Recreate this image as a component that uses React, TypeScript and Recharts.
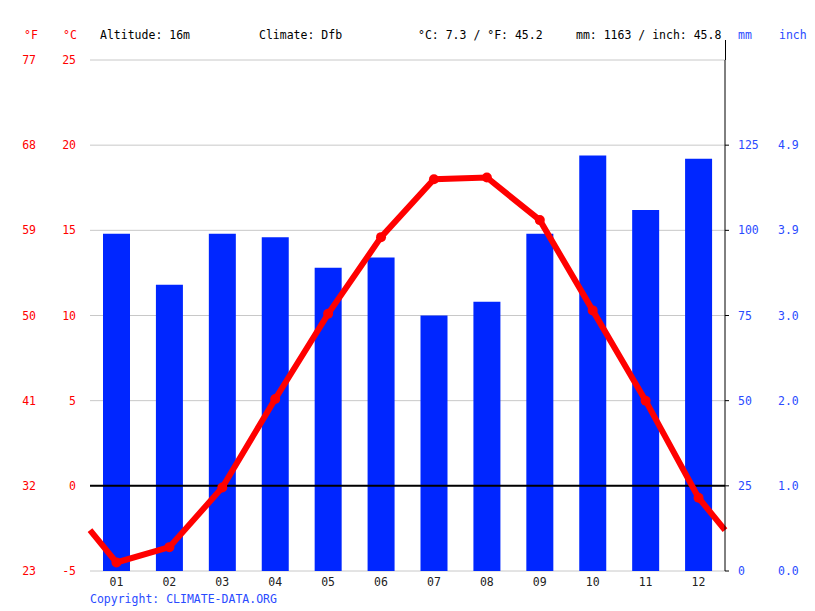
import {
  ComposedChart,
  Bar,
  Line,
  XAxis,
  YAxis,
  CartesianGrid,
  ReferenceLine,
} from "recharts";

const months = ["01", "02", "03", "04", "05", "06", "07", "08", "09", "10", "11", "12"];
const tempC = [-4.5, -3.6, -0.1, 5.1, 10.1, 14.6, 18.0, 18.1, 15.6, 10.3, 5.0, -0.7];
const precipMm = [99, 84, 99, 98, 89, 92, 75, 79, 99, 122, 106, 121];

const celsiusTicks = [-5, 0, 5, 10, 15, 20, 25];
const fahrenheitTicks = [23, 32, 41, 50, 59, 68, 77];
const mmTicks = [0, 25, 50, 75, 100, 125];
const monthEdges = [0.5, 1.5, 2.5, 3.5, 4.5, 5.5, 6.5, 7.5, 8.5, 9.5, 10.5, 11.5, 12.5];

const FONT = "'DejaVu Sans Mono', monospace";
const RED = "#ff0000";
const BLUE = "#0026ff";
const TEXT_BLUE = "#2a4bff";

// the line wraps round the year: its ends sit halfway between Dec and Jan
const wrapTemp = (tempC[0] + tempC[11]) / 2;

const data = months.map((m, i) => ({
  x: i + 1,
  temp: tempC[i],
  tempF: (tempC[i] * 9) / 5 + 32,
  precip: precipMm[i],
}));

const lineData = [
  { x: 0.5, temp: wrapTemp, edge: true },
  ...data.map((d) => ({ x: d.x, temp: d.temp, edge: false })),
  { x: 12.5, temp: wrapTemp, edge: true },
];

const tickStyle = { fontFamily: FONT, fontSize: 11.5 };

function renderDot(props: any) {
  const { cx, cy, payload, index } = props;
  if (payload.edge) return <g key={"d" + index} />;
  return <circle key={"d" + index} cx={cx} cy={cy} r={5} fill={RED} />;
}

const headerItems: { text: string; left: number; color: string }[] = [
  { text: "°F", left: 24, color: RED },
  { text: "°C", left: 63, color: RED },
  { text: "Altitude: 16m", left: 100, color: "#000" },
  { text: "Climate: Dfb", left: 259, color: "#000" },
  { text: "°C: 7.3 / °F: 45.2", left: 418, color: "#000" },
  { text: "mm: 1163 / inch: 45.8", left: 576, color: "#000" },
  { text: "mm", left: 738, color: TEXT_BLUE },
  { text: "inch", left: 779, color: TEXT_BLUE },
];

// axis ids: recharts puts the id that sorts first next to the plot
const C_AXIS = "a_c";
const F_AXIS = "b_f";
const MM_AXIS = "a_mm";
const IN_AXIS = "b_in";

export default function App() {
  return (
    <div style={{ position: "absolute", left: 0, top: 0, width: 815, height: 611, background: "#fff" }}>
      <ComposedChart width={815} height={611} data={data} margin={{ top: 60, right: 0, bottom: 0, left: 0 }}>
        <CartesianGrid yAxisId={C_AXIS} xAxisId="b" vertical={false} stroke="#c8c8c8" horizontalValues={celsiusTicks} />
        <XAxis
          xAxisId="b"
          dataKey="x"
          type="number"
          domain={[0.5, 12.5]}
          ticks={monthEdges}
          tickFormatter={() => ""}
          tickSize={5}
          height={0}
          stroke="#000"
          tickLine={{ stroke: "#000" }}
          axisLine={{ stroke: "#000" }}
        />
        <XAxis
          xAxisId="l"
          dataKey="x"
          type="number"
          domain={[0.5, 12.5]}
          ticks={[1, 2, 3, 4, 5, 6, 7, 8, 9, 10, 11, 12]}
          tickFormatter={(v: number) => months[v - 1]}
          tickLine={false}
          axisLine={false}
          tickMargin={1}
          height={40}
          tick={{ ...tickStyle, fill: "#222" }}
        />
        <YAxis
          yAxisId={C_AXIS}
          type="number"
          domain={[-5, 25]}
          ticks={celsiusTicks}
          width={45}
          axisLine={false}
          tickLine={false}
          tickSize={0}
          tickMargin={14}
          tick={{ ...tickStyle, fill: RED }}
        />
        <YAxis
          yAxisId={F_AXIS}
          type="number"
          domain={[23, 77]}
          ticks={fahrenheitTicks}
          width={45}
          axisLine={false}
          tickLine={false}
          tickSize={0}
          tickMargin={9}
          tick={{ ...tickStyle, fill: RED }}
        />
        <YAxis
          yAxisId={MM_AXIS}
          orientation="right"
          type="number"
          domain={[0, 150]}
          ticks={mmTicks}
          width={45}
          tickSize={4}
          tickMargin={9}
          axisLine={{ stroke: "#000" }}
          tickLine={{ stroke: "#000" }}
          tick={{ ...tickStyle, fill: TEXT_BLUE, textAnchor: "start" }}
        />
        <YAxis
          yAxisId={IN_AXIS}
          orientation="right"
          type="number"
          domain={[0, 150]}
          ticks={mmTicks}
          tickFormatter={(v: number) => (v / 25.4).toFixed(1)}
          width={45}
          axisLine={false}
          tickLine={false}
          tickSize={0}
          tickMargin={8}
          tick={{ ...tickStyle, fill: TEXT_BLUE, textAnchor: "start" }}
        />
        <Bar xAxisId="b" yAxisId={MM_AXIS} dataKey="precip" fill={BLUE} barSize={27} isAnimationActive={false} />
        {/* invisible twins so the °F and inch scales get drawn */}
        <Line xAxisId="b" yAxisId={F_AXIS} dataKey="tempF" stroke="none" dot={false} activeDot={false} isAnimationActive={false} />
        <Line xAxisId="b" yAxisId={IN_AXIS} dataKey="precip" stroke="none" dot={false} activeDot={false} isAnimationActive={false} />
        <ReferenceLine xAxisId="b" yAxisId={C_AXIS} y={0} stroke="#000" strokeWidth={2} />
        <Line
          xAxisId="l"
          yAxisId={C_AXIS}
          data={lineData}
          dataKey="temp"
          stroke={RED}
          strokeWidth={6}
          dot={renderDot}
          activeDot={false}
          isAnimationActive={false}
        />
      </ComposedChart>
      <div style={{ position: "absolute", left: 725, top: 40, width: 1, height: 20, background: "#000" }} />
      {headerItems.map((h) => (
        <div
          key={h.text}
          style={{
            position: "absolute",
            left: h.left,
            top: 28,
            fontFamily: FONT,
            fontSize: 11.5,
            color: h.color,
            whiteSpace: "pre",
          }}
        >
          {h.text}
        </div>
      ))}
      <div
        style={{
          position: "absolute",
          left: 90,
          top: 592,
          fontFamily: FONT,
          fontSize: 11.5,
          color: TEXT_BLUE,
        }}
      >
        Copyright: CLIMATE-DATA.ORG
      </div>
    </div>
  );
}
